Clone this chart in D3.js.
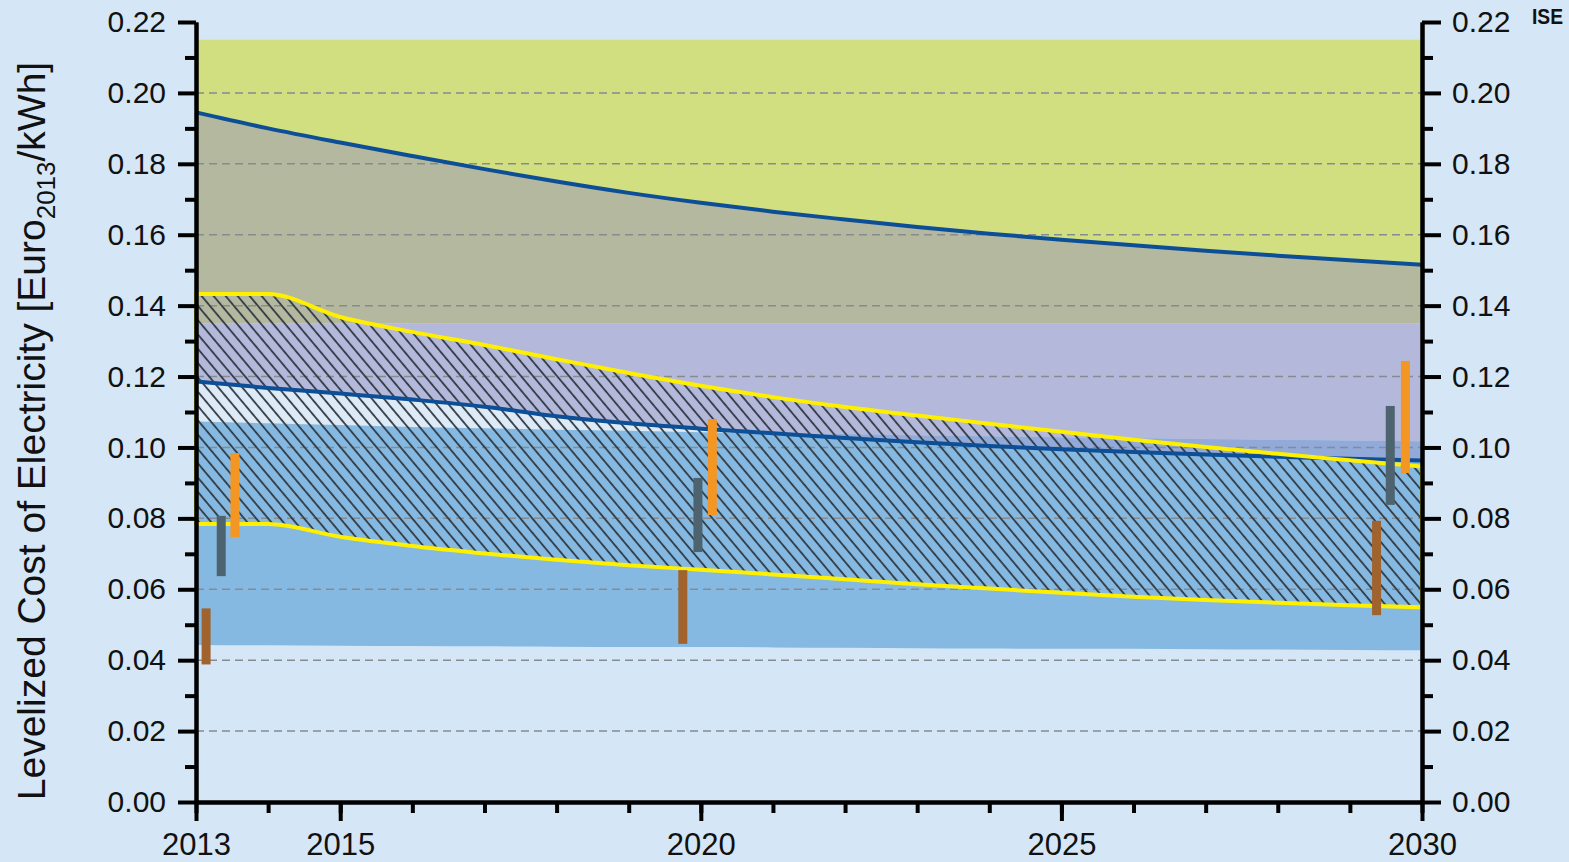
<!DOCTYPE html>
<html>
<head>
<meta charset="utf-8">
<script src="https://cdn.jsdelivr.net/npm/d3@7/dist/d3.min.js"></script>
<style>
  body { margin: 0; background: #d5e7f6; }
  svg { display: block; }
  text { font-family: "Liberation Sans", Arial, sans-serif; fill: #111; }
</style>
</head>
<body>
<svg id="chart" width="1569" height="862"></svg>
<script>
// years on the x axis
var years = [2013,2014,2015,2016,2017,2018,2019,2020,2021,2022,2023,2024,2025,2026,2027,2028,2029,2030];

// dark blue upper curve (top of grey band)
var upperCurve = [0.1945,0.1900,0.1860,0.1822,0.1785,0.1750,0.1718,0.1690,0.1665,0.1643,0.1622,0.1603,0.1586,0.1570,0.1555,0.1541,0.1528,0.1515];
// dark blue lower curve (bottom of lavender band)
var lowerCurve = [0.1186,0.1168,0.1152,0.1135,0.1115,0.1088,0.1068,0.1053,0.1040,0.1027,0.1015,0.1004,0.0995,0.0987,0.0980,0.0974,0.0968,0.0963];
// yellow corridor (hatched)
var corridorHigh = [0.1433,0.1433,0.1368,0.1326,0.1289,0.1249,0.1210,0.1174,0.1142,0.1114,0.1090,0.1067,0.1044,0.1022,0.1001,0.0982,0.0964,0.0946];
var corridorLow  = [0.0784,0.0784,0.0748,0.0722,0.0701,0.0683,0.0668,0.0655,0.0642,0.0628,0.0614,0.0602,0.0590,0.0579,0.0570,0.0562,0.0555,0.0549];
// light blue band
var blueTop    = [0.1073,0.1068,0.1063,0.1058,0.1054,0.1050,0.1047,0.1043,0.1040,0.1037,0.1034,0.1031,0.1028,0.1026,0.1023,0.1021,0.1019,0.1017];
var blueBottom = [0.0443,0.0442,0.0441,0.0440,0.0439,0.0438,0.0437,0.0437,0.0436,0.0435,0.0434,0.0433,0.0432,0.0432,0.0431,0.0430,0.0429,0.0428];
// flat limits
var greenTop = 0.215;
var greyBottom = 0.135;

// vertical range bars
var barYears = [2013.14, 2013.35, 2013.54, 2019.75, 2019.96, 2020.16, 2029.37, 2029.56, 2029.77];
var barLow   = [0.0388, 0.0637, 0.0747, 0.0446, 0.0705, 0.0809, 0.0527, 0.0838, 0.0928];
var barHigh  = [0.0546, 0.0807, 0.0984, 0.0654, 0.0914, 0.1080, 0.0793, 0.1117, 0.1244];
var barKind  = ["brown","slate","orange","brown","slate","orange","brown","slate","orange"];

var yMajor = [0,0.02,0.04,0.06,0.08,0.10,0.12,0.14,0.16,0.18,0.20,0.22];
var yMinor = [0.01,0.03,0.05,0.07,0.09,0.11,0.13,0.15,0.17,0.19,0.21];
var xMajor = [2013,2015,2020,2025,2030];
var gridVals = [0.02,0.04,0.06,0.08,0.10,0.12,0.14,0.16,0.18,0.20];

var colors = {
  green: "#d2df80", grey: "#b4b89e", lavender: "#b4b8da", gap: "#deebf7",
  blue: "#85b9e1", overlap: "#91aad9", line: "#0d4f97", yellow: "#fff000",
  hatch: "#303a44", brown: "#a0632d", slate: "#4d6370", orange: "#f49623"
};

var svg = d3.select("#chart");
var x = d3.scaleLinear().domain([2013, 2030]).range([196, 1422]);
var y = d3.scaleLinear().domain([0, 0.22]).range([802, 22]);

var rows = years.map(function(yr, i){
  return {yr: yr, up: upperCurve[i], lo: lowerCurve[i], ch: corridorHigh[i], cl: corridorLow[i], bt: blueTop[i], bb: blueBottom[i]};
});

var curve = d3.curveMonotoneX;
function band(top, bottom){
  return d3.area().curve(curve).x(function(d){ return x(d.yr); })
    .y0(function(d){ return typeof bottom === "number" ? y(bottom) : y(d[bottom]); })
    .y1(function(d){ return typeof top === "number" ? y(top) : y(d[top]); });
}
function line(key){
  return d3.line().curve(curve).x(function(d){ return x(d.yr); }).y(function(d){ return y(d[key]); });
}

var defs = svg.append("defs");
var pat = defs.append("pattern").attr("id","hatch").attr("patternUnits","userSpaceOnUse")
  .attr("width", 9.2).attr("height", 20).attr("patternTransform","rotate(-40)");
pat.append("line").attr("x1", 1).attr("y1", 0).attr("x2", 1).attr("y2", 20)
  .attr("stroke", colors.hatch).attr("stroke-width", 1.8);
defs.append("clipPath").attr("id","lavClip").append("path").attr("d", band(greyBottom, "lo")(rows));

var fills = svg.append("g");
fills.append("path").attr("d", band(greenTop, "up")(rows)).attr("fill", colors.green);
fills.append("path").attr("d", band("up", greyBottom)(rows)).attr("fill", colors.grey);
fills.append("path").attr("d", band(greyBottom, "lo")(rows)).attr("fill", colors.lavender);
fills.append("path").attr("d", band("lo", "bt")(rows)).attr("fill", colors.gap);
fills.append("path").attr("d", band("bt", "bb")(rows)).attr("fill", colors.blue);
fills.append("path").attr("d", band("bt", "bb")(rows)).attr("fill", colors.overlap).attr("clip-path","url(#lavClip)");

// dashed grid
svg.append("g").selectAll("line").data(gridVals).enter().append("line")
  .attr("x1", x(2013)).attr("x2", x(2030))
  .attr("y1", function(d){ return y(d); }).attr("y2", function(d){ return y(d); })
  .attr("stroke", "#868b90").attr("stroke-width", 1.5).attr("stroke-dasharray", "8,5");

// hatched corridor
svg.append("path").attr("d", band("ch", "cl")(rows)).attr("fill", "url(#hatch)");

svg.append("path").attr("d", line("lo")(rows)).attr("fill","none").attr("stroke", colors.line).attr("stroke-width", 4);
svg.append("path").attr("d", line("up")(rows)).attr("fill","none").attr("stroke", colors.line).attr("stroke-width", 4);
svg.append("path").attr("d", band("ch", "cl")(rows)).attr("fill","none").attr("stroke", colors.yellow).attr("stroke-width", 4);

// range bars
svg.append("g").selectAll("rect").data(barYears).enter().append("rect")
  .attr("x", function(d){ return x(d) - 4.5; })
  .attr("width", 9)
  .attr("y", function(d, i){ return y(barHigh[i]); })
  .attr("height", function(d, i){ return y(barLow[i]) - y(barHigh[i]); })
  .attr("fill", function(d, i){ return colors[barKind[i]]; });

// axes
function styleAxis(g){
  g.select(".domain").attr("stroke", "#000").attr("stroke-width", 4);
  g.selectAll(".tick line").attr("stroke", "#000").attr("stroke-width", 4);
  g.selectAll("text").style("font-size", "30px").attr("fill", "#111");
}
svg.append("g").attr("transform","translate(196,0)")
  .call(d3.axisLeft(y).tickValues(yMinor).tickSize(11).tickSizeOuter(0).tickFormat(""))
  .call(styleAxis);
svg.append("g").attr("transform","translate(196,0)")
  .call(d3.axisLeft(y).tickValues(yMajor).tickSize(18).tickSizeOuter(0).tickPadding(12).tickFormat(d3.format(".2f")))
  .call(styleAxis);
svg.append("g").attr("transform","translate(1422,0)")
  .call(d3.axisRight(y).tickValues(yMinor).tickSize(11).tickSizeOuter(0).tickFormat(""))
  .call(styleAxis);
svg.append("g").attr("transform","translate(1422,0)")
  .call(d3.axisRight(y).tickValues(yMajor).tickSize(19).tickSizeOuter(0).tickPadding(11).tickFormat(d3.format(".2f")))
  .call(styleAxis);
svg.append("g").attr("transform","translate(0,802)")
  .call(d3.axisBottom(x).tickValues(years).tickSize(11).tickSizeOuter(0).tickFormat(""))
  .call(styleAxis);
svg.append("g").attr("transform","translate(0,802)")
  .call(d3.axisBottom(x).tickValues(xMajor).tickSize(19).tickSizeOuter(0).tickPadding(12).tickFormat(d3.format("d")))
  .call(styleAxis)
  .selectAll("text").style("font-size", "31px");

// y title
var title = svg.append("text").attr("transform","translate(45,431) rotate(-90)")
  .attr("text-anchor","middle").style("font-size","39px").attr("fill","#111");
title.append("tspan").text("Levelized Cost of Electricity [Euro");
title.append("tspan").attr("dy", 10).style("font-size","26px").text("2013");
title.append("tspan").attr("dy", -10).text("/kWh]");

svg.append("text").attr("x", 1532).attr("y", 24).attr("textLength", 31).attr("lengthAdjust","spacingAndGlyphs")
  .style("font-size","22px").style("font-weight","bold").text("ISE");
</script>
</body>
</html>
